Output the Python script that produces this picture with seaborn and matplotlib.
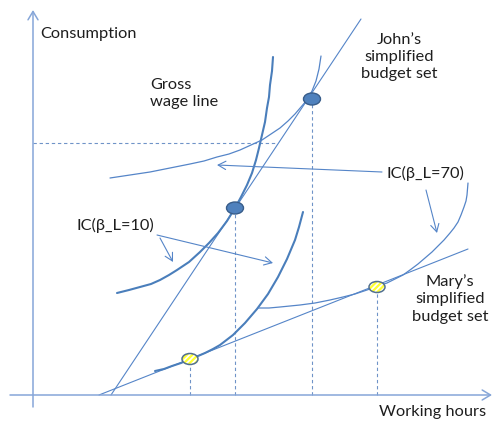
import matplotlib
matplotlib.use("Agg")
import matplotlib.pyplot as plt
from matplotlib.patches import Ellipse
import seaborn as sns
import pandas as pd

# ---- data (working hours, consumption) ----
wage_x = [78, 328]
wage_y = [0, 376]
mary_budget_x = [66, 435]
mary_budget_y = [0, 146]

john_ic10_x = [84, 96, 107, 118, 127, 136, 144, 156, 167, 176, 185, 194, 202, 208, 214, 219, 223, 226, 229, 232, 234, 236, 237, 239, 240]
john_ic10_y = [102, 105, 108, 111, 115, 120, 125, 133, 143, 152, 162, 174, 187, 198, 210, 222, 235, 247, 260, 273, 287, 298, 310, 324, 338]

john_ic70_x = [77, 97, 117, 137, 157, 171, 184, 196, 207, 218, 229, 238, 247, 255, 262, 268, 274, 279, 283, 286, 288]
john_ic70_y = [217, 220, 223, 227, 231, 234, 238, 241, 245, 250, 255, 261, 267, 274, 281, 288, 295, 304, 314, 326, 339]

mary_ic10_x = [122, 131, 139, 148, 157, 165, 172, 180, 187, 200, 212, 224, 235, 245, 254, 262, 266, 270]
mary_ic10_y = [24, 26, 29, 32, 36, 39, 42, 46, 50, 60, 72, 86, 101, 118, 136, 155, 168, 183]

mary_ic70_x = [225, 236, 247, 257, 267, 282, 297, 310, 322, 334, 345, 354, 362, 370, 377, 385, 392, 399, 405, 411, 417, 421, 425, 428, 431, 433, 434, 435]
mary_ic70_y = [87, 87, 88, 89, 90, 92, 95, 98, 101, 105, 109, 112, 116, 120, 125, 131, 137, 143, 149, 155, 162, 167, 173, 180, 188, 194, 200, 212]

john_points_x = [202, 279]
john_points_y = [187, 296]
mary_points_x = [157, 344]
mary_points_y = [36, 108]

ref_consumption = 252

sns.set_theme(style="white")
plt.rcParams['font.family'] = ['Lato', 'DejaVu Sans']
plt.rcParams['hatch.linewidth'] = 1.2

fig = plt.figure(figsize=(4.93, 4.25), dpi=100)
ax = fig.add_axes([0, 0, 1, 1])
ax.set_xlim(-33, 460)
ax.set_ylim(-30, 395)
ax.axis("off")

thin = "#5585c8"
thick = "#4a7ebb"
axis_c = "#86a6d8"
dash_c = "#6f93c8"
txt_c = "#1e1e1e"

def line(xs, ys, color, lw, **kw):
    df = pd.DataFrame({"x": xs, "y": ys})
    sns.lineplot(data=df, x="x", y="y", sort=False, estimator=None,
                 color=color, lw=lw, ax=ax, **kw)

# axes arrows
ax.annotate("", xy=(0, 385), xytext=(0, -12),
            arrowprops=dict(arrowstyle="->,head_length=0.5,head_width=0.3",
                            color=axis_c, lw=1.1, shrinkA=0, shrinkB=0))
ax.annotate("", xy=(459, 0), xytext=(-23, 0),
            arrowprops=dict(arrowstyle="->,head_length=0.5,head_width=0.3",
                            color=axis_c, lw=1.1, shrinkA=0, shrinkB=0))

# dashed guides
ax.plot([0, 242], [ref_consumption, ref_consumption], ls=(0, (3, 2.5)), color=dash_c, lw=0.8)
for px, py in zip(john_points_x + mary_points_x, john_points_y + mary_points_y):
    ax.plot([px, px], [0, py], ls=(0, (3, 2.5)), color=dash_c, lw=0.8)

# straight lines
line(wage_x, wage_y, thin, 0.8)
line(mary_budget_x, mary_budget_y, thin, 0.8)

# indifference curves
line(john_ic10_x, john_ic10_y, thick, 1.5)
line(john_ic70_x, john_ic70_y, thin, 0.9)
line(mary_ic10_x, mary_ic10_y, thick, 1.5)
line(mary_ic70_x, mary_ic70_y, thin, 0.9)

# dots
for px, py in zip(john_points_x, john_points_y):
    ax.add_patch(Ellipse((px, py), 17, 12, facecolor="#4f81bd", edgecolor="#385d8a", lw=1.0, zorder=5))
for px, py in zip(mary_points_x, mary_points_y):
    ax.add_patch(Ellipse((px, py), 16, 11, facecolor="#ffff33", edgecolor="white", hatch="//////", lw=0, zorder=5))
    ax.add_patch(Ellipse((px, py), 16, 11, facecolor="none", edgecolor="#52708f", lw=1.1, zorder=6))

# annotation arrows
arrow_kw = dict(arrowstyle="->,head_length=0.55,head_width=0.3", color=thin, lw=0.8,
                shrinkA=0, shrinkB=0, mutation_scale=10)
ax.annotate("", xy=(184, 230), xytext=(349, 223), arrowprops=arrow_kw)
ax.annotate("", xy=(404, 162), xytext=(393, 205), arrowprops=arrow_kw)
ax.annotate("", xy=(240, 132), xytext=(124, 160), arrowprops=arrow_kw)
ax.annotate("", xy=(140, 133), xytext=(127, 157), arrowprops=arrow_kw)

# texts
fs = 11.8
ax.text(7, 361, "Consumption", fontsize=fs, color=txt_c, ha="left", va="center")
ax.text(117, 301.5, "Gross\nwage line", fontsize=fs, color=txt_c, ha="left", va="center", linespacing=1.3)
ax.text(366, 338, "John\u2019s\nsimplified\nbudget set", fontsize=fs, color=txt_c, ha="center", va="center", linespacing=1.3)
ax.text(417, 96, "Mary\u2019s\nsimplified\nbudget set", fontsize=fs, color=txt_c, ha="center", va="center", linespacing=1.3)
ax.text(354, 222, "IC(\u03b2_L=70)", fontsize=fs, color=txt_c, ha="left", va="center")
ax.text(44, 170, "IC(\u03b2_L=10)", fontsize=fs, color=txt_c, ha="left", va="center")
ax.text(346, -17, "Working hours", fontsize=fs, color=txt_c, ha="left", va="center")

fig.savefig("out.png", dpi=100)
